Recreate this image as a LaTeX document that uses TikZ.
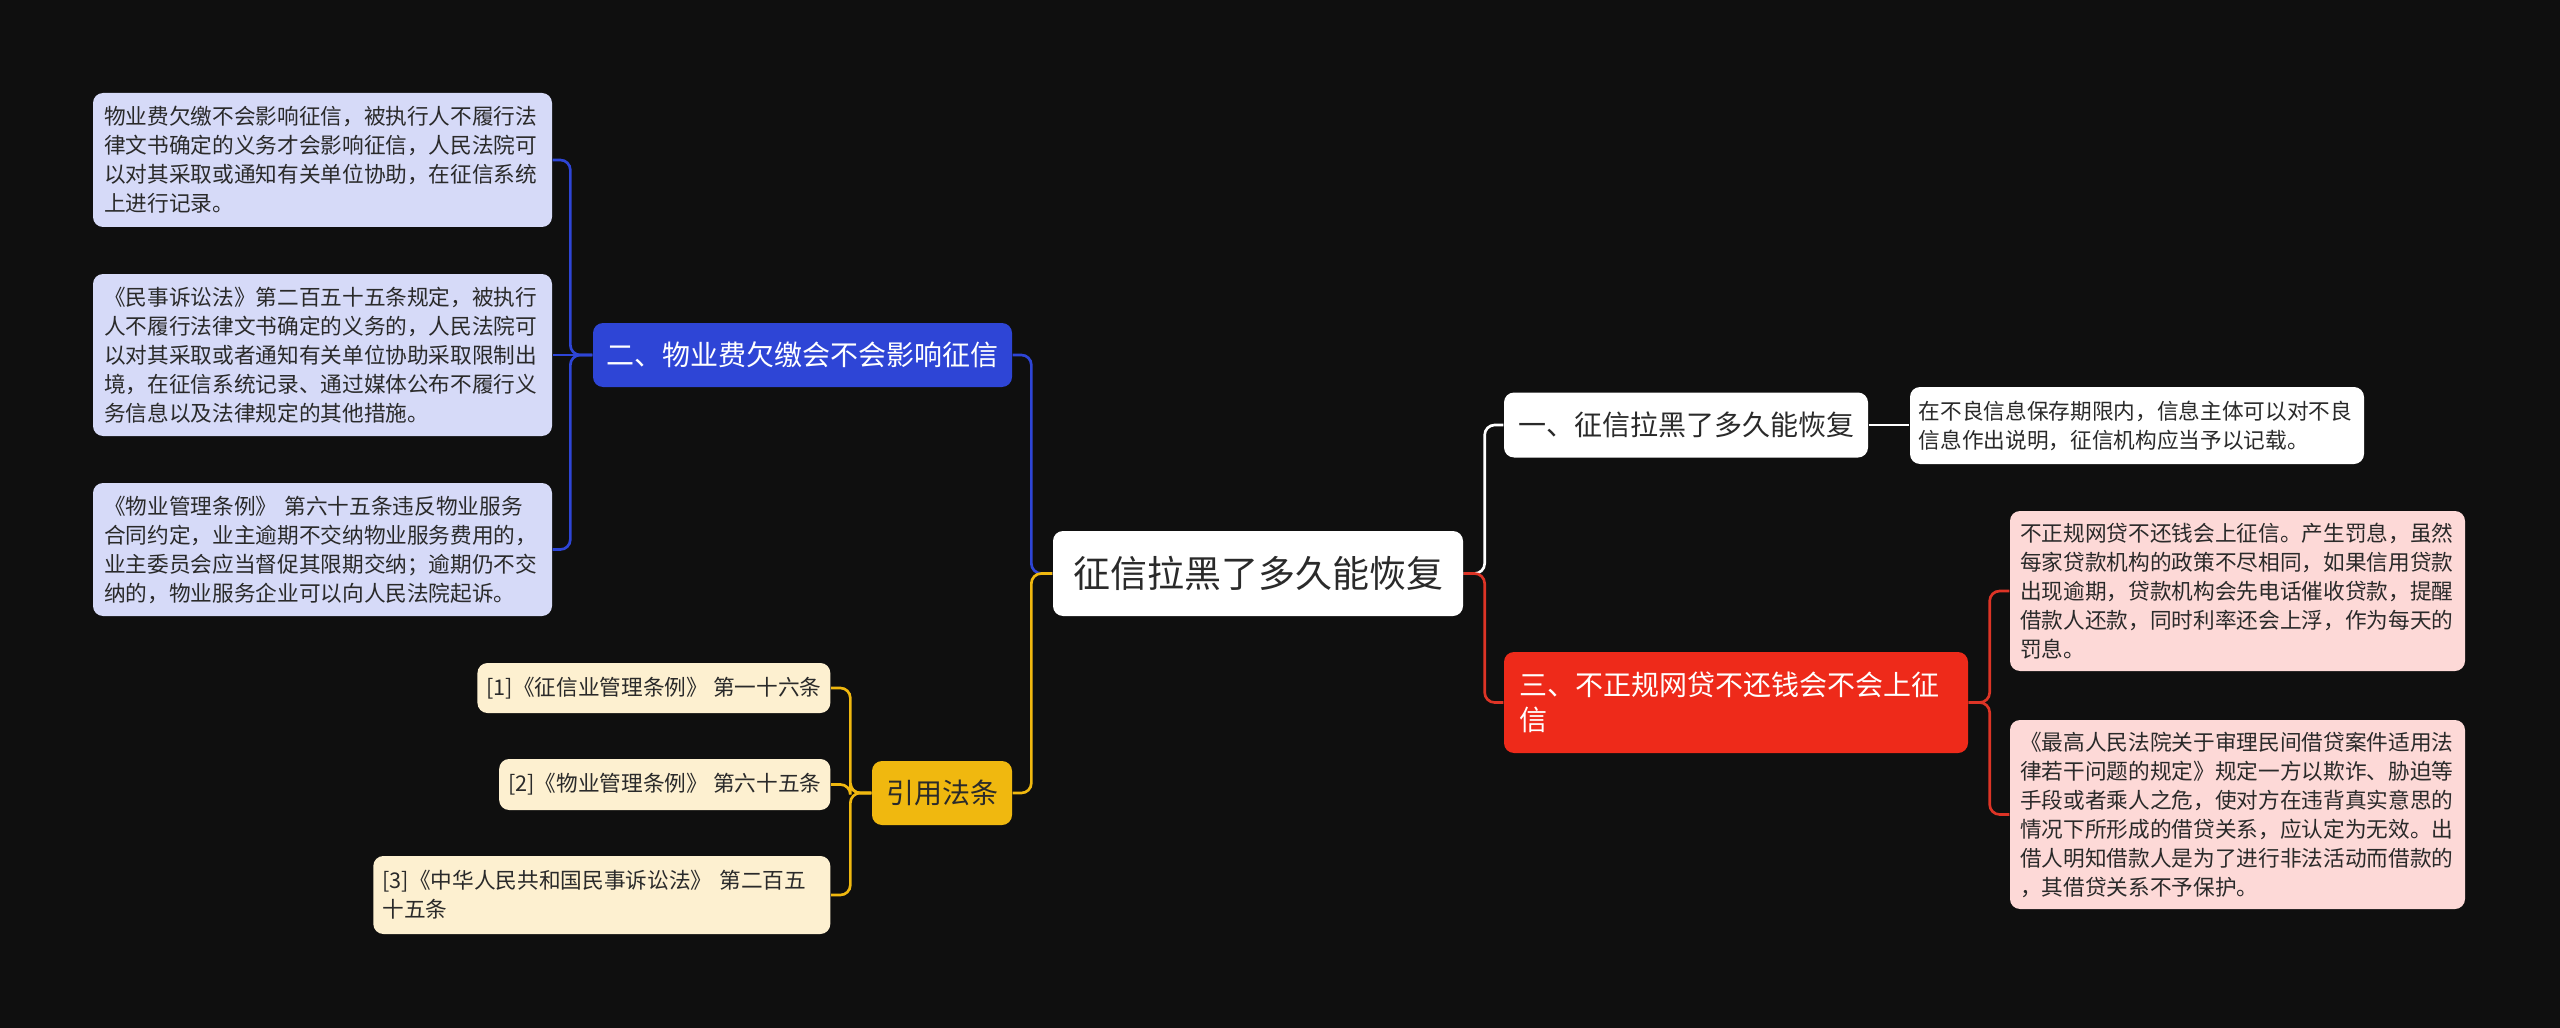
\documentclass[tikz,border=0pt]{standalone}
\usepackage{fontspec}
\setmainfont{Noto Sans CJK SC}
\definecolor{bg}{HTML}{0F0F0F}
\definecolor{txt}{HTML}{2A2A2A}
\definecolor{blueM}{HTML}{2E45D6}
\definecolor{blueL}{HTML}{D6DAF8}
\definecolor{yelM}{HTML}{F0B80F}
\definecolor{yelL}{HTML}{FDF0D0}
\definecolor{redM}{HTML}{EE2A1A}
\definecolor{redLn}{HTML}{DD3426}
\definecolor{redL}{HTML}{FDD9D7}
\begin{document}
\begin{tikzpicture}[x=0.3pt,y=-0.3pt,
  box/.style={rounded corners=3pt, inner sep=0pt, align=center},
  mainf/.style={font=\fontsize{8.4pt}{10.4pt}\selectfont},
  leaff/.style={font=\fontsize{6.5pt}{8.7pt}\selectfont},
  leaf/.style={box, leaff, align=left, text=txt},
  conn/.style={line width=0.8pt, rounded corners=3pt},
]
\fill[bg] (0,0) rectangle (2560,1028);
\useasboundingbox (0,0) rectangle (2560,1028);

% central
\node[box, fill=white, text=txt, minimum width=123pt, minimum height=25.5pt,
  font=\fontsize{11.1pt}{13pt}\selectfont] (C) at (1258,573.5) {征信拉黑了多久能恢复};

% blue branch
\node[box, mainf, fill=blueM, text=white, minimum width=125.7pt, minimum height=19.2pt] (B) at (802.5,355) {二、物业费欠缴会不会影响征信};
\node[leaf, fill=blueL, text width=131.1pt, inner xsep=3.3pt, minimum height=40.2pt] (B1) at (322.5,160)
 {物业费欠缴不会影响征信，被执行人不履行法\\律文书确定的义务才会影响征信，人民法院可\\以对其采取或通知有关单位协助，在征信系统\\上进行记录。};
\node[leaf, fill=blueL, text width=131.1pt, inner xsep=3.3pt, minimum height=48.6pt] (B2) at (322.5,355)
 {《民事诉讼法》第二百五十五条规定，被执行\\人不履行法律文书确定的义务的，人民法院可\\以对其采取或者通知有关单位协助采取限制出\\境，在征信系统记录、通过媒体公布不履行义\\务信息以及法律规定的其他措施。};
\node[leaf, fill=blueL, text width=131.1pt, inner xsep=3.3pt, minimum height=39.9pt] (B3) at (322.5,549.5)
 {《物业管理条例》 第六十五条违反物业服务\\合同约定，业主逾期不交纳物业服务费用的，\\业主委员会应当督促其限期交纳；逾期仍不交\\纳的，物业服务企业可以向人民法院起诉。};

% yellow branch
\node[box, mainf, fill=yelM, text=txt, minimum width=42pt, minimum height=19.2pt] (Y) at (942,793) {引用法条};
\node[box, leaff, fill=yelL, text=txt, inner xsep=2.7pt, minimum height=15pt, anchor=east] (Y1) at (831,688) {[1]《征信业管理条例》 第一十六条};
\node[box, leaff, fill=yelL, text=txt, inner xsep=2.7pt, minimum height=15.3pt, anchor=east] (Y2) at (831,784.5) {[2]《物业管理条例》 第六十五条};
\node[leaf, fill=yelL, text width=131.7pt, inner xsep=2.7pt, minimum height=23.4pt, anchor=east] (Y3) at (831,895) {[3]《中华人民共和国民事诉讼法》 第二百五\\十五条};

% white branch
\node[box, mainf, fill=white, text=txt, minimum width=109.2pt, minimum height=19.5pt] (W) at (1686,425) {一、征信拉黑了多久能恢复};
\node[leaf, fill=white, text width=131pt, inner xsep=2.6pt, minimum height=23.1pt] (W1) at (2137,425.5)
 {在不良信息保存期限内，信息主体可以对不良\\信息作出说明，征信机构应当予以记载。};

% red branch
\node[box, mainf, align=left, fill=redM, text=white, text width=130pt, inner xsep=4.6pt, minimum height=30.3pt] (R) at (1736,702.5) {三、不正规网贷不还钱会不会上征\\信};
\node[leaf, fill=redL, text width=130.5pt, inner xsep=3pt, minimum height=48pt] (R1) at (2237.5,591)
 {不正规网贷不还钱会上征信。产生罚息，虽然\\每家贷款机构的政策不尽相同，如果信用贷款\\出现逾期，贷款机构会先电话催收贷款，提醒\\借款人还款，同时利率还会上浮，作为每天的\\罚息。};
\node[leaf, fill=redL, text width=130.5pt, inner xsep=3pt, minimum height=56.7pt] (R2) at (2237.5,814.5)
 {《最高人民法院关于审理民间借贷案件适用法\\律若干问题的规定》规定一方以欺诈、胁迫等\\手段或者乘人之危，使对方在违背真实意思的\\情况下所形成的借贷关系，应认定为无效。出\\借人明知借款人是为了进行非法活动而借款的\\，其借贷关系不予保护。};

% connectors
\begin{scope}[on background layer/.style={}]
\draw[conn, blueM] (C.west) -- +(-21,0) |- (B.east);
\draw[conn, yelM] (C.west) -- +(-21,0) |- (Y.east);
\draw[conn, blueM] (B.west) -- +(-22,0) |- (B1.east);
\draw[conn, blueM] (B.west) -- (B2.east);
\draw[conn, blueM] (B.west) -- +(-22,0) |- (B3.east);
\draw[conn, yelM] (Y.west) -- +(-21,0) |- (Y1.east);
\draw[conn, yelM] (Y.west) -- +(-21,0) |- (Y2.east);
\draw[conn, yelM] (Y.west) -- +(-21,0) |- (Y3.east);
\draw[conn, white] (C.east) -- +(21,0) |- (W.west);
\draw[conn, redLn] (C.east) -- +(21,0) |- (R.west);
\draw[conn, white] (W.east) -- (W1.west |- W.east);
\draw[conn, redLn] (R.east) -- +(21,0) |- (R1.west);
\draw[conn, redLn] (R.east) -- +(21,0) |- (R2.west);
\end{scope}
\end{tikzpicture}
\end{document}
